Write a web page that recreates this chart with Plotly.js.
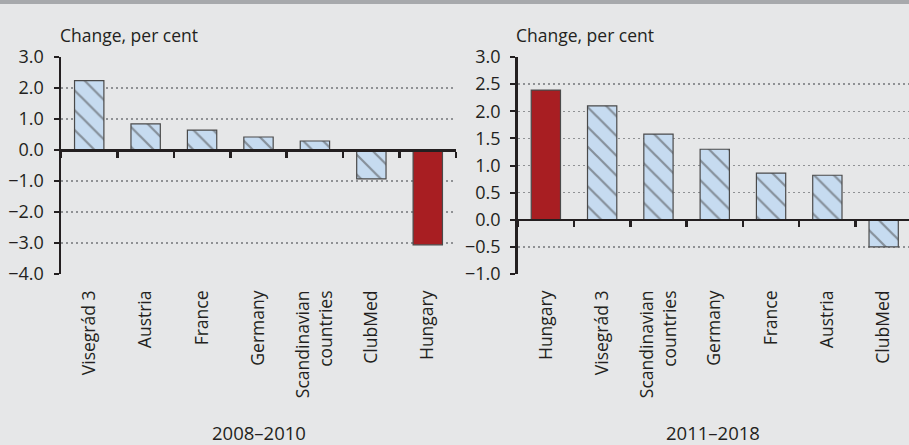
<!DOCTYPE html>
<html><head><meta charset="utf-8">
<script src="https://cdn.plot.ly/plotly-3.0.1.min.js"></script>
<style>
body{margin:0;background:#e6e7e8;}
#band{position:absolute;left:0;top:0;width:909px;height:4px;background:#a7a9ac;z-index:5;}
</style>
</head><body>
<div id="band"></div>
<div id="chart" style="width:909px;height:445px;"></div>
<script>
// ---- data ----
const cats1 = ['Visegrád 3', 'Austria', 'France', 'Germany', 'Scandinavian<br>countries', 'ClubMed', 'Hungary'];
const vals1 = [2.24, 0.84, 0.64, 0.42, 0.29, -0.93, -3.06];
const cats2 = ['Hungary', 'Visegrád 3', 'Scandinavian<br>countries', 'Germany', 'France', 'Austria', 'ClubMed'];
const vals2 = [2.39, 2.10, 1.58, 1.30, 0.86, 0.82, -0.50];
const periods = ['2008–2010', '2011–2018'];
const yTitle = 'Change, per cent';
const yTicks1 = [-4, -3, -2, -1, 0, 1, 2, 3];
const yTicks2 = [-1, -0.5, 0, 0.5, 1, 1.5, 2, 2.5, 3];
const highlight = 'Hungary';

// ---- style ----
const W = 909, H = 445;
const FONT = 'Open Sans, Noto Sans, sans-serif';
const TXT = '#231f20';
const RED = '#a81e22', FILL = '#c6dbf0', HATCH = '#6aa6d9', EDGE = '#4a4a4a';
const mT = 57, mB = 171;
const plotH = H - mT - mB;
const dom1 = [61 / W, 456 / W];
const dom2 = [517.7 / W, 1];
const yr1 = [-4, 3], yr2 = [-1, 3];
const xr1 = [-0.5, 6.5], xr2 = [-0.5, 6.45];

function barTrace(cats, vals, xa, ya) {
  const isH = cats.map(c => c === highlight);
  return {
    type: 'bar', x: cats, y: vals, xaxis: xa, yaxis: ya, showlegend: false, hoverinfo: 'x+y',
    marker: {
      color: isH.map(h => h ? RED : FILL),
      line: {color: EDGE, width: 1.2},
      pattern: {shape: isH.map(h => h ? '' : '\\'), fgcolor: HATCH, bgcolor: FILL, size: 14, solidity: 0.16, fillmode: 'overlay'}
    }
  };
}
const empty = (xa, ya) => ({type: 'scatter', x: [], y: [], xaxis: xa, yaxis: ya, showlegend: false, hoverinfo: 'skip'});

const data = [
  barTrace(cats1, vals1, 'x', 'y'),
  barTrace(cats2, vals2, 'x2', 'y2'),
  empty('x3', 'y'),
  empty('x4', 'y2')
];

function yAxis(range, ticks, dom, anchor) {
  return {
    domain: [0, 1], anchor: anchor, range: range, tickvals: ticks, tickformat: '.1f',
    showline: true, linecolor: TXT, linewidth: 2.5, ticks: 'outside', ticklen: 5, tickwidth: 2, tickcolor: TXT,
    showgrid: true, gridcolor: '#8f9194', gridwidth: 1.5, griddash: '2px,3px', zeroline: false,
    tickfont: {family: FONT, size: 18, color: TXT}, ticklabelstandoff: 6, fixedrange: true
  };
}
function xAxis(range, dom, anchor) {
  return {
    domain: dom, anchor: anchor, type: 'category', range: range, showline: false, ticks: '', showgrid: false,
    zeroline: false, tickangle: -90, tickfont: {family: FONT, size: 17.5, color: TXT}, ticklabelstandoff: 12, fixedrange: true
  };
}
function zeroAxis(range, over, yr) {
  return {
    overlaying: over, anchor: 'free', position: (0 - yr[0]) / (yr[1] - yr[0]), type: 'linear', range: range,
    tick0: 0.5, dtick: 1, ticks: 'outside', ticklen: 6, tickwidth: 2.5, tickcolor: TXT, showticklabels: false,
    showgrid: false, zeroline: false, showline: true, linecolor: TXT, linewidth: 2.5, fixedrange: true
  };
}

const ann = (text, x, y, xanchor, size) => ({text: text, xref: 'paper', yref: 'paper', x: x, y: y, xanchor: xanchor, yanchor: 'middle',
  showarrow: false, font: {family: FONT, size: size, color: TXT}, borderpad: 0});

const bottomY = -(432 - (mT + plotH)) / plotH;
const layout = {
  width: W, height: H, margin: {l: 0, r: 0, t: mT, b: mB},
  paper_bgcolor: '#e6e7e8', plot_bgcolor: '#e6e7e8', bargap: 0.48, showlegend: false,
  xaxis: xAxis(xr1, dom1, 'y'),
  yaxis: yAxis(yr1, yTicks1, dom1, 'x'),
  xaxis2: xAxis(xr2, dom2, 'y2'),
  yaxis2: yAxis(yr2, yTicks2, dom2, 'x2'),
  xaxis3: zeroAxis(xr1, 'x', yr1),
  xaxis4: zeroAxis(xr2, 'x2', yr2),
  annotations: [
    ann(yTitle, 59 / W, 1 + 22 / plotH, 'left', 17.5),
    ann(yTitle, 515 / W, 1 + 22 / plotH, 'left', 17.5),
    ann(periods[0], (dom1[0] + dom1[1]) / 2, bottomY, 'center', 18.5),
    ann(periods[1], (517.7 + 909) / 2 / W, bottomY, 'center', 18.5)
  ]
};

Plotly.newPlot('chart', data, layout, {displayModeBar: false, staticPlot: true});
</script>
</body></html>
